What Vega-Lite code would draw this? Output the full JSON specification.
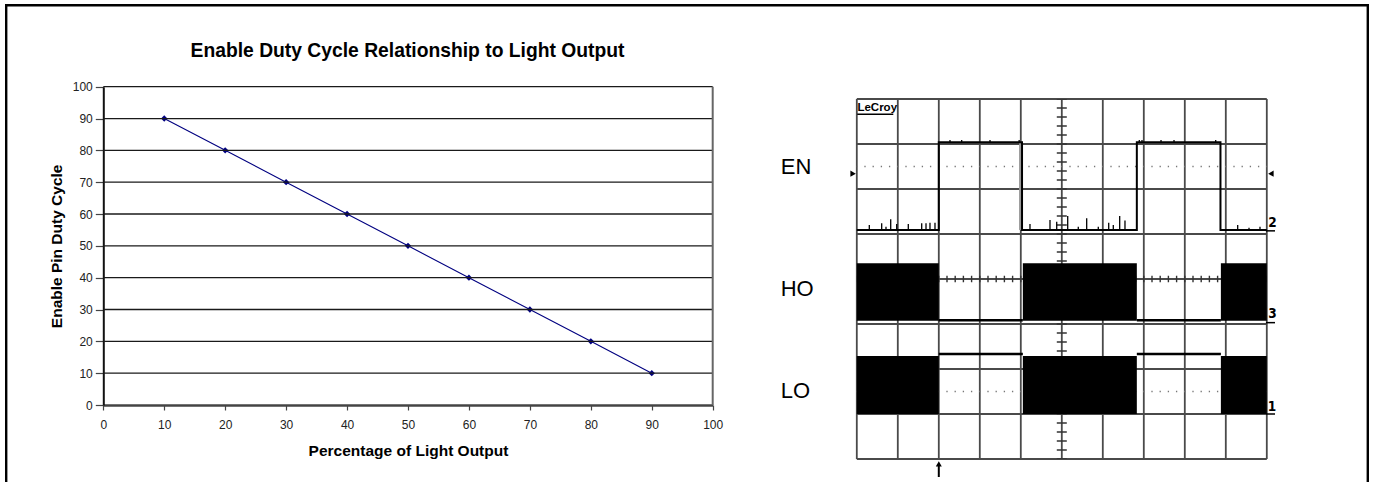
{
  "$schema": "https://vega.github.io/schema/vega-lite/v6.json",
  "width": 1373,
  "height": 482,
  "padding": 0,
  "autosize": {"type": "none"},
  "background": "white",
  "title": {"text": "Enable Duty Cycle Relationship to Light Output", "anchor": "middle", "frame": "group", "offset": -76, "baseline": "alphabetic", "dx": -279, "font": "Liberation Sans", "fontSize": 19.3, "fontWeight": "bold", "color": "#000"},
  "config": {"view": {"stroke": null}, "font": "Liberation Sans"},
  "resolve": {"scale": {"x": "independent", "y": "independent"}, "axis": {"x": "independent", "y": "independent"}},
  "layer": [
    {
      "data": {"values": [
        {"light": 10, "duty": 90}, {"light": 20, "duty": 80}, {"light": 30, "duty": 70}, {"light": 40, "duty": 60}, {"light": 50, "duty": 50},
        {"light": 60, "duty": 40}, {"light": 70, "duty": 30}, {"light": 80, "duty": 20}, {"light": 90, "duty": 10}
      ]},
      "mark": {"type": "line", "color": "#000080", "strokeWidth": 1.1},
      "encoding": {
        "x": {"field": "light", "type": "quantitative", "scale": {"domain": [0, 100], "range": [103.3, 712.7], "nice": false, "zero": false},
          "axis": {"orient": "bottom", "offset": -77, "values": [0, 10, 20, 30, 40, 50, 60, 70, 80, 90, 100], "grid": false, "labelFlush": false, "labelOverlap": false,
            "tickSize": 5, "tickColor": "#444", "tickWidth": 1.2, "domainColor": "#444", "domainWidth": 2.5,
            "labelFont": "Liberation Sans", "labelFontSize": 12, "labelColor": "#222", "labelPadding": 9,
            "title": "Percentage of Light Output", "titleFont": "Liberation Sans", "titleFontSize": 15.5, "titleFontWeight": "bold", "titleColor": "#000", "titleY": 50, "titleBaseline": "alphabetic"}},
        "y": {"field": "duty", "type": "quantitative", "scale": {"domain": [0, 100], "range": [405, 86.7], "nice": false, "zero": false},
          "axis": {"orient": "left", "offset": -103.3, "values": [0, 10, 20, 30, 40, 50, 60, 70, 80, 90, 100], "grid": false, "labelFlush": false, "labelOverlap": false,
            "tickSize": 8, "tickColor": "#444", "tickWidth": 1.2, "domainColor": "#111", "domainWidth": 2,
            "labelFont": "Liberation Sans", "labelFontSize": 12, "labelColor": "#222", "labelPadding": 3,
            "title": "Enable Pin Duty Cycle", "titleFont": "Liberation Sans", "titleFontSize": 15.5, "titleFontWeight": "bold", "titleColor": "#000", "titleX": -42.3, "titleBaseline": "alphabetic"}}
      }
    },
    {
      "data": {"values": [
        {"light": 10, "duty": 90}, {"light": 20, "duty": 80}, {"light": 30, "duty": 70}, {"light": 40, "duty": 60}, {"light": 50, "duty": 50},
        {"light": 60, "duty": 40}, {"light": 70, "duty": 30}, {"light": 80, "duty": 20}, {"light": 90, "duty": 10}
      ]},
      "mark": {"type": "point", "shape": "diamond", "size": 40, "filled": true, "color": "#000080", "opacity": 1},
      "encoding": {
        "x": {"field": "light", "type": "quantitative", "scale": {"domain": [0, 100], "range": [103.3, 712.7], "nice": false, "zero": false}, "axis": null},
        "y": {"field": "duty", "type": "quantitative", "scale": {"domain": [0, 100], "range": [405, 86.7], "nice": false, "zero": false}, "axis": null}
      }
    },
    {
      "data": {"values": [{"level": 10}, {"level": 20}, {"level": 30}, {"level": 40}, {"level": 50}, {"level": 60}, {"level": 70}, {"level": 80}, {"level": 90}, {"level": 100}]},
      "mark": {"type": "rule", "color": "#1a1a1a", "strokeWidth": 1.3},
      "encoding": {
        "y": {"field": "level", "type": "quantitative", "scale": {"domain": [0, 100], "range": [405, 86.7], "nice": false, "zero": false}, "axis": null},
        "x": {"datum": 0, "type": "quantitative", "scale": {"domain": [0, 100], "range": [103.3, 712.7], "nice": false, "zero": false}, "axis": null},
        "x2": {"datum": 100}
      }
    },
    {
      "data": {"values": [{"edge": 100}]},
      "mark": {"type": "rule", "color": "#666", "strokeWidth": 2},
      "encoding": {
        "x": {"field": "edge", "type": "quantitative", "scale": {"domain": [0, 100], "range": [103.3, 712.7], "nice": false, "zero": false}, "axis": null},
        "y": {"datum": 0, "type": "quantitative", "scale": {"domain": [0, 100], "range": [405, 86.7], "nice": false, "zero": false}, "axis": null},
        "y2": {"datum": 100}
      }
    },
    {
      "data": {"values": [{"part": "outer frame"}]},
      "mark": {"type": "rect", "clip": true, "fillOpacity": 0, "stroke": "#000", "strokeWidth": 2.4},
      "encoding": {
        "x": {"datum": 0, "type": "quantitative", "scale": {"domain": [0, 1], "range": [6.2, 1367.8], "nice": false, "zero": false}, "axis": null},
        "x2": {"datum": 1},
        "y": {"datum": 0, "type": "quantitative", "scale": {"domain": [0, 1], "range": [492, 5.3], "nice": false, "zero": false}, "axis": null},
        "y2": {"datum": 1}
      }
    },
    {
      "layer": [
        {
          "data": {"values": [{"div": 0}, {"div": 1}, {"div": 2}, {"div": 3}, {"div": 4}, {"div": 5}, {"div": 6}, {"div": 7}, {"div": 8}, {"div": 9}, {"div": 10}]},
          "mark": {"type": "rule", "color": "#4a4a4a", "strokeWidth": 1.8},
          "encoding": {
            "x": {"field": "div", "type": "quantitative", "scale": {"domain": [0, 10], "range": [856.8, 1266.8], "nice": false, "zero": false}, "axis": null},
            "y": {"datum": 0, "type": "quantitative", "scale": {"domain": [0, 8], "range": [459, 99], "nice": false, "zero": false}, "axis": null},
            "y2": {"datum": 8}
          }
        },
        {
          "data": {"values": [{"div": 0}, {"div": 1}, {"div": 2}, {"div": 3}, {"div": 4}, {"div": 5}, {"div": 6}, {"div": 7}, {"div": 8}]},
          "mark": {"type": "rule", "color": "#4a4a4a", "strokeWidth": 1.8},
          "encoding": {
            "y": {"field": "div", "type": "quantitative", "axis": null},
            "x": {"datum": 0, "type": "quantitative", "axis": null},
            "x2": {"datum": 10}
          }
        },
        {
          "data": {"values": [{"row": 6.5}, {"row": 1.5}]},
          "mark": {"type": "rule", "color": "#777", "strokeWidth": 1.3, "strokeDash": [1.3, 6.9], "strokeDashOffset": 0.65},
          "encoding": {
            "y": {"field": "row", "type": "quantitative", "axis": null},
            "x": {"datum": 0, "type": "quantitative", "axis": null},
            "x2": {"datum": 10}
          }
        },
        {
          "data": {"values": [{"axisLine": "vertical centre"}]},
          "mark": {"type": "rule", "color": "#333", "strokeWidth": 10, "strokeDash": [1.4, 7.6], "strokeDashOffset": 0.7},
          "encoding": {
            "x": {"datum": 5, "type": "quantitative", "axis": null},
            "y": {"datum": 0, "type": "quantitative", "axis": null},
            "y2": {"datum": 8}
          }
        },
        {
          "data": {"values": [{"axisLine": "horizontal centre"}]},
          "mark": {"type": "rule", "color": "#333", "strokeWidth": 6.6, "strokeDash": [1.4, 6.8], "strokeDashOffset": 0.7},
          "encoding": {
            "y": {"datum": 4, "type": "quantitative", "axis": null},
            "x": {"datum": 0, "type": "quantitative", "axis": null},
            "x2": {"datum": 10}
          }
        },
        {
          "data": {"values": [{"edge": "EN falling edge persistence"}]},
          "mark": {"type": "rule", "color": "#999", "strokeWidth": 3.5},
          "encoding": {
            "x": {"datum": 4.0, "type": "quantitative", "axis": null},
            "y": {"datum": 5.09, "type": "quantitative", "axis": null},
            "y2": {"datum": 7.04}
          }
        },
        {
          "data": {"values": [
            {"seq": 1, "t": 0, "v": 5.09}, {"seq": 2, "t": 2.0, "v": 5.09}, {"seq": 3, "t": 2.0, "v": 7.04}, {"seq": 4, "t": 4.03, "v": 7.04},
            {"seq": 5, "t": 4.03, "v": 5.09}, {"seq": 6, "t": 6.83, "v": 5.09}, {"seq": 7, "t": 6.83, "v": 7.04}, {"seq": 8, "t": 8.87, "v": 7.04},
            {"seq": 9, "t": 8.87, "v": 5.09}, {"seq": 10, "t": 10, "v": 5.09}
          ]},
          "mark": {"type": "line", "color": "#000", "strokeWidth": 2},
          "encoding": {
            "x": {"field": "t", "type": "quantitative", "axis": null},
            "y": {"field": "v", "type": "quantitative", "axis": null},
            "order": {"field": "seq", "type": "quantitative"}
          }
        },
        {
          "data": {"values": [
            {"t": 0.305, "lo": 5.09, "hi": 5.20}, {"t": 0.607, "lo": 5.09, "hi": 5.24}, {"t": 0.712, "lo": 5.09, "hi": 5.16}, {"t": 0.827, "lo": 5.09, "hi": 5.33},
            {"t": 0.973, "lo": 5.09, "hi": 5.22}, {"t": 1.256, "lo": 5.09, "hi": 5.22}, {"t": 1.583, "lo": 5.09, "hi": 5.24}, {"t": 1.688, "lo": 5.09, "hi": 5.24},
            {"t": 1.785, "lo": 5.09, "hi": 5.25}, {"t": 1.907, "lo": 5.09, "hi": 5.25},
            {"t": 4.224, "lo": 5.09, "hi": 5.22}, {"t": 4.712, "lo": 5.09, "hi": 5.31}, {"t": 4.876, "lo": 5.09, "hi": 5.27}, {"t": 5.144, "lo": 5.09, "hi": 5.40},
            {"t": 5.402, "lo": 5.09, "hi": 5.16}, {"t": 5.607, "lo": 5.09, "hi": 5.35}, {"t": 5.890, "lo": 5.09, "hi": 5.16}, {"t": 6.144, "lo": 5.09, "hi": 5.25},
            {"t": 6.256, "lo": 5.09, "hi": 5.20}, {"t": 6.412, "lo": 5.09, "hi": 5.40}, {"t": 6.541, "lo": 5.09, "hi": 5.30},
            {"t": 9.290, "lo": 5.09, "hi": 5.20}, {"t": 9.566, "lo": 5.09, "hi": 5.14}, {"t": 9.834, "lo": 5.09, "hi": 5.16},
            {"t": 2.273, "lo": 7.04, "hi": 7.09}, {"t": 2.558, "lo": 7.04, "hi": 7.09}, {"t": 3.249, "lo": 7.04, "hi": 7.09}, {"t": 3.96, "lo": 7.04, "hi": 7.09},
            {"t": 6.89, "lo": 7.04, "hi": 7.09}, {"t": 6.956, "lo": 7.04, "hi": 7.09}, {"t": 7.42, "lo": 7.04, "hi": 7.09}, {"t": 7.737, "lo": 7.04, "hi": 7.09},
            {"t": 8.754, "lo": 7.04, "hi": 7.09}
          ]},
          "mark": {"type": "rule", "color": "#000", "strokeWidth": 1.3},
          "encoding": {
            "x": {"field": "t", "type": "quantitative", "axis": null},
            "y": {"field": "lo", "type": "quantitative", "axis": null},
            "y2": {"field": "hi"}
          }
        },
        {
          "data": {"values": [
            {"ch": "HO", "t0": 0, "t1": 2.0, "lo": 3.07, "hi": 4.35}, {"ch": "HO", "t0": 4.05, "t1": 6.83, "lo": 3.07, "hi": 4.35}, {"ch": "HO", "t0": 8.88, "t1": 10, "lo": 3.07, "hi": 4.35},
            {"ch": "LO", "t0": 0, "t1": 2.0, "lo": 1.0, "hi": 2.29}, {"ch": "LO", "t0": 4.05, "t1": 6.83, "lo": 1.0, "hi": 2.29}, {"ch": "LO", "t0": 8.88, "t1": 10, "lo": 1.0, "hi": 2.29}
          ]},
          "mark": {"type": "rect", "color": "#000"},
          "encoding": {
            "x": {"field": "t0", "type": "quantitative", "axis": null},
            "x2": {"field": "t1"},
            "y": {"field": "lo", "type": "quantitative", "axis": null},
            "y2": {"field": "hi"}
          }
        },
        {
          "data": {"values": [
            {"ch": "HO", "t0": 2.0, "t1": 4.05, "v": 3.085}, {"ch": "HO", "t0": 6.83, "t1": 8.88, "v": 3.085},
            {"ch": "LO", "t0": 2.0, "t1": 4.05, "v": 2.335}, {"ch": "LO", "t0": 6.83, "t1": 8.88, "v": 2.335}
          ]},
          "mark": {"type": "rule", "color": "#000", "strokeWidth": 2.5},
          "encoding": {
            "x": {"field": "t0", "type": "quantitative", "axis": null},
            "x2": {"field": "t1"},
            "y": {"field": "v", "type": "quantitative", "axis": null}
          }
        },
        {
          "data": {"values": [{"t": -0.09, "v": 6.34, "shape": "triangle-right"}, {"t": 10.1, "v": 6.34, "shape": "triangle-left"}]},
          "mark": {"type": "point", "filled": true, "color": "#000", "size": 40, "opacity": 1},
          "encoding": {
            "x": {"field": "t", "type": "quantitative", "axis": null},
            "y": {"field": "v", "type": "quantitative", "axis": null},
            "shape": {"field": "shape", "type": "nominal", "scale": null, "legend": null}
          }
        },
        {
          "data": {"values": [
            {"num": "2", "t": 10.035, "v": 5.162, "ground": 5.07}, {"num": "3", "t": 10.035, "v": 3.127, "ground": 3.03}, {"num": "1", "t": 10.026, "v": 1.071, "ground": 1.0}
          ]},
          "layer": [
            {
              "mark": {"type": "text", "align": "left", "baseline": "alphabetic", "font": "Liberation Sans Narrow, DejaVu Sans Condensed, sans-serif", "fontSize": 13.5, "fontWeight": "bold", "color": "#000"},
              "encoding": {
                "x": {"field": "t", "type": "quantitative", "axis": null},
                "y": {"field": "v", "type": "quantitative", "axis": null},
                "text": {"field": "num"}
              }
            },
            {
              "mark": {"type": "rule", "color": "#000", "strokeWidth": 1.5},
              "encoding": {
                "x": {"datum": 9.98, "type": "quantitative", "axis": null},
                "x2": {"datum": 10.2},
                "y": {"field": "ground", "type": "quantitative", "axis": null}
              }
            }
          ]
        },
        {
          "data": {"values": [{"label": "EN", "t": -1.856, "v": 6.344}, {"label": "HO", "t": -1.856, "v": 3.62}, {"label": "LO", "t": -1.856, "v": 1.36}]},
          "mark": {"type": "text", "align": "left", "baseline": "alphabetic", "font": "Liberation Sans", "fontSize": 22, "color": "#000"},
          "encoding": {
            "x": {"field": "t", "type": "quantitative", "axis": null},
            "y": {"field": "v", "type": "quantitative", "axis": null},
            "text": {"field": "label"}
          }
        },
        {
          "data": {"values": [{"brand": "LeCroy", "t": 0.015, "v": 7.74, "u0": 0.01, "u1": 0.89, "uv": 7.66}]},
          "layer": [
            {
              "mark": {"type": "text", "align": "left", "baseline": "alphabetic", "font": "Liberation Sans", "fontSize": 11.5, "fontWeight": "bold", "color": "#000"},
              "encoding": {
                "x": {"field": "t", "type": "quantitative", "axis": null},
                "y": {"field": "v", "type": "quantitative", "axis": null},
                "text": {"field": "brand"}
              }
            },
            {
              "mark": {"type": "rule", "color": "#000", "strokeWidth": 1.5},
              "encoding": {
                "x": {"field": "u0", "type": "quantitative", "axis": null},
                "x2": {"field": "u1"},
                "y": {"field": "uv", "type": "quantitative", "axis": null}
              }
            }
          ]
        },
        {
          "data": {"values": [{"t": 2.0, "tail": -0.4, "head": -0.11}]},
          "layer": [
            {
              "mark": {"type": "rule", "color": "#000", "strokeWidth": 2},
              "encoding": {
                "x": {"field": "t", "type": "quantitative", "axis": null},
                "y": {"field": "tail", "type": "quantitative", "axis": null},
                "y2": {"field": "head"}
              }
            },
            {
              "mark": {"type": "point", "shape": "triangle-up", "filled": true, "color": "#000", "size": 36, "opacity": 1},
              "encoding": {
                "x": {"field": "t", "type": "quantitative", "axis": null},
                "y": {"field": "head", "type": "quantitative", "axis": null}
              }
            }
          ]
        }
      ]
    }
  ]
}
